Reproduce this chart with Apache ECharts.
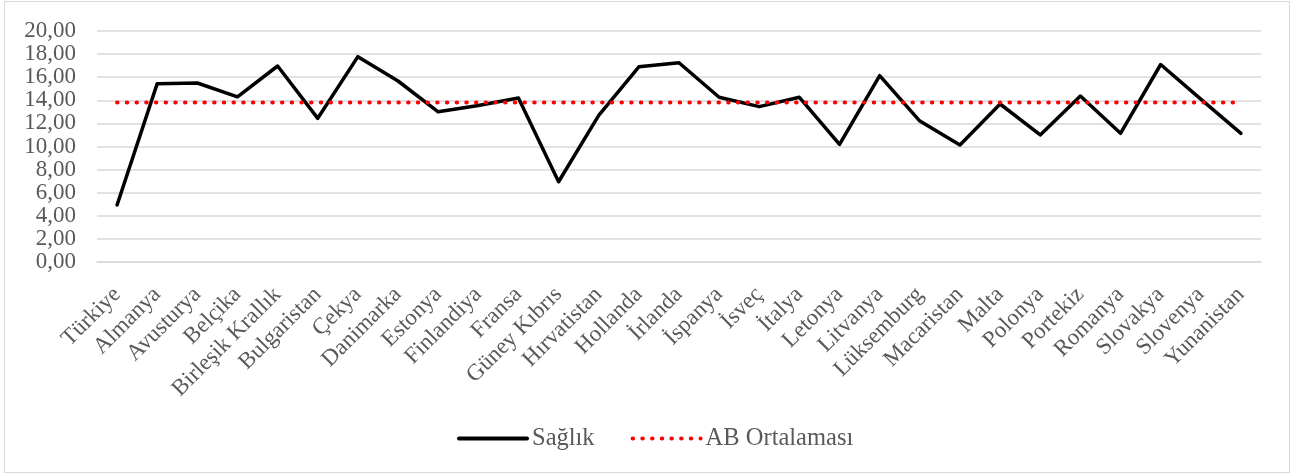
<!DOCTYPE html>
<html>
<head>
<meta charset="utf-8">
<script src="https://cdn.jsdelivr.net/npm/echarts@6/dist/echarts.min.js"></script>
<style>
  html, body { margin: 0; padding: 0; background: #fff; }
  #chart { width: 1293px; height: 475px; }
  #frame { position: absolute; left: 4px; top: 1px; width: 1284px; height: 470px; border: 1.5px solid #d9d9d9; pointer-events: none; }
</style>
</head>
<body>
<div id="chart"></div>
<div id="frame"></div>
<script>
  // ── Data ──
  var ulkeler = ['Türkiye', 'Almanya', 'Avusturya', 'Belçika', 'Birleşik Krallık', 'Bulgaristan', 'Çekya',
    'Danimarka', 'Estonya', 'Finlandiya', 'Fransa', 'Güney Kıbrıs', 'Hırvatistan', 'Hollanda', 'İrlanda',
    'İspanya', 'İsveç', 'İtalya', 'Letonya', 'Litvanya', 'Lüksemburg', 'Macaristan', 'Malta', 'Polonya',
    'Portekiz', 'Romanya', 'Slovakya', 'Slovenya', 'Yunanistan'];
  var saglik = [4.94, 15.44, 15.5, 14.3, 16.97, 12.44, 17.78, 15.67, 13.0, 13.55, 14.2, 6.95, 12.7, 16.9,
    17.25, 14.26, 13.45, 14.26, 10.19, 16.13, 12.2, 10.13, 13.68, 11.0, 14.37, 11.14, 17.1, 14.1, 11.14];
  var abOrtalamasi = [13.8, 13.8, 13.8, 13.8, 13.8, 13.8, 13.8, 13.8, 13.8, 13.8, 13.8, 13.8, 13.8, 13.8,
    13.8, 13.8, 13.8, 13.8, 13.8, 13.8, 13.8, 13.8, 13.8, 13.8, 13.8, 13.8, 13.8, 13.8, 13.8];
  var yMin = 0, yMax = 20, yStep = 2;

  var font = '"Liberation Serif", "Times New Roman", serif';
  var gray = '#595959';

  var chart = echarts.init(document.getElementById('chart'));
  chart.setOption({
    animation: false,
    textStyle: { fontFamily: font },
    grid: { left: 97, right: 32, top: 31, bottom: 213, containLabel: false },
    legend: {
      data: ['Sağlık', 'AB Ortalaması'],
      bottom: 19,
      left: 452,
      itemWidth: 68,
      itemHeight: 14,
      itemGap: 36,
      itemStyle: { opacity: 0 },
      lineStyle: { width: 4 },
      textStyle: { fontFamily: font, fontSize: 24.5, color: gray }
    },
    xAxis: {
      type: 'category',
      data: ulkeler,
      boundaryGap: true,
      axisLine: { lineStyle: { color: '#d9d9d9', width: 1.5 } },
      axisTick: { show: false },
      axisLabel: { rotate: 45, interval: 0, margin: 29, fontFamily: font, fontSize: 23, color: gray }
    },
    yAxis: {
      type: 'value',
      min: yMin,
      max: yMax,
      interval: yStep,
      axisLine: { show: false },
      axisTick: { show: false },
      splitLine: { lineStyle: { color: '#d9d9d9', width: 1.5 } },
      axisLabel: {
        margin: 21,
        fontFamily: font,
        fontSize: 23,
        color: gray,
        formatter: function (v) { return v.toFixed(2).replace('.', ','); }
      }
    },
    series: [
      {
        name: 'Sağlık',
        type: 'line',
        data: saglik,
        symbol: 'none',
        lineStyle: { color: '#000', width: 3.5, cap: 'round', join: 'round' },
        itemStyle: { color: '#000' }
      },
      {
        name: 'AB Ortalaması',
        type: 'line',
        data: abOrtalamasi,
        symbol: 'none',
        lineStyle: { color: '#ff0000', width: 4, type: [0.5, 9.2], cap: 'round' },
        itemStyle: { color: '#ff0000' }
      }
    ]
  });
</script>
</body>
</html>
